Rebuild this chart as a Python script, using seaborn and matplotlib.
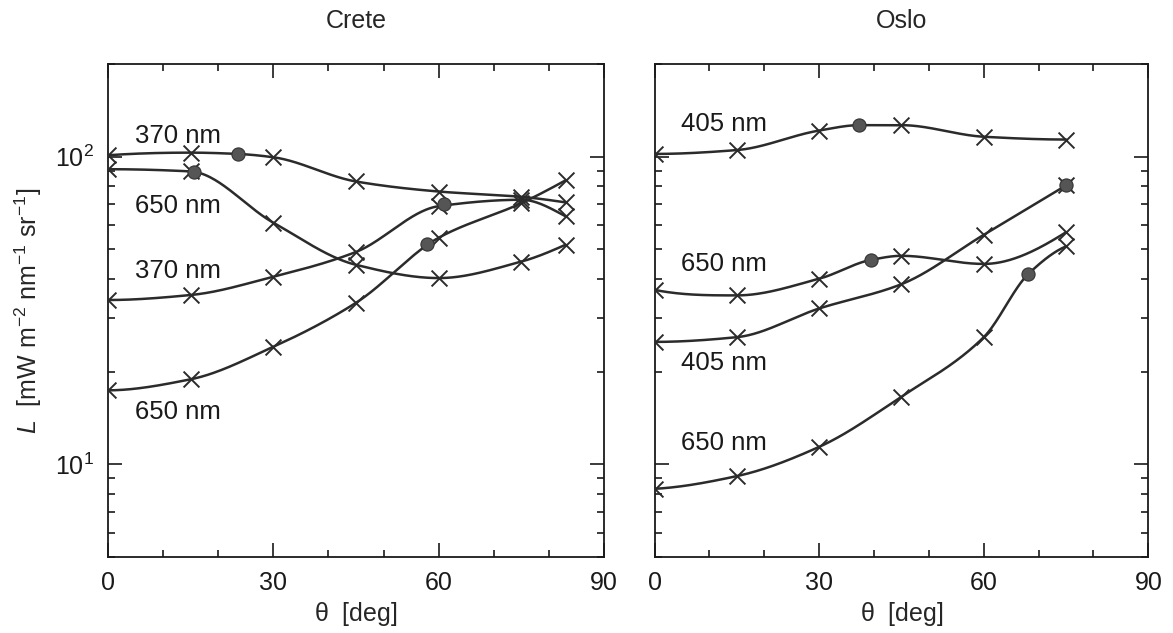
import numpy as np
import pandas as pd
import matplotlib
matplotlib.use('Agg')
import matplotlib.pyplot as plt
import matplotlib.ticker as mticker
import seaborn as sns

# Data (radiance L vs. viewing angle theta)
theta_crete = [0, 15, 30, 45, 60, 75, 83]
crete_370_a = [101, 103, 99.5, 83, 77, 74, 71]
crete_650_a = [91, 89.5, 61, 44.5, 40.3, 45.6, 51.7]
crete_370_b = [34.2, 35.5, 40.7, 49, 69, 72.4, 64]
crete_650_b = [17.4, 18.9, 24.1, 33.5, 54.5, 70.6, 83.7]

theta_oslo = [0, 15, 30, 45, 60, 75]
oslo_405_a = [102, 105, 121.5, 126.5, 116, 113.6]
oslo_650_a = [36.9, 35.4, 40.1, 47.6, 44.8, 56.8]
oslo_405_b = [25.0, 25.9, 32.1, 38.5, 55.7, 80.6]
oslo_650_b = [8.33, 9.16, 11.4, 16.6, 25.9, 51.1]

# filled circles on each curve (same order as the series)
crete_dot_theta = [23.6, 15.6, 61, 57.9]
crete_dot_L = [102, 89, 70.3, 52]
oslo_dot_theta = [37.3, 39.5, 75, 68.1]
oslo_dot_L = [126.5, 46.2, 80.6, 41.5]

# curve labels
crete_labels = ['370 nm', '650 nm', '370 nm', '650 nm']
crete_label_L = [117, 69.3, 42.6, 14.8]
oslo_labels = ['405 nm', '650 nm', '405 nm', '650 nm']
oslo_label_L = [128, 44.8, 21.3, 11.7]


def smooth(x, y, n=300):
    # monotone cubic (PCHIP) through the points, in log space
    x = np.asarray(x, float)
    ly = np.log10(np.asarray(y, float))
    h = np.diff(x)
    d = np.diff(ly) / h
    m = np.zeros_like(ly)
    for i in range(1, len(x) - 1):
        if d[i - 1] * d[i] > 0:
            w1 = 2 * h[i] + h[i - 1]
            w2 = h[i] + 2 * h[i - 1]
            m[i] = (w1 + w2) / (w1 / d[i - 1] + w2 / d[i])
    m[0] = d[0] if len(d) == 1 else ((2 * h[0] + h[1]) * d[0] - h[0] * d[1]) / (h[0] + h[1])
    if m[0] * d[0] <= 0:
        m[0] = 0
    m[-1] = ((2 * h[-1] + h[-2]) * d[-1] - h[-1] * d[-2]) / (h[-1] + h[-2])
    if m[-1] * d[-1] <= 0:
        m[-1] = 0
    xs = np.linspace(x[0], x[-1], n)
    idx = np.clip(np.searchsorted(x, xs) - 1, 0, len(x) - 2)
    hh = h[idx]
    t = (xs - x[idx]) / hh
    h00 = 2 * t ** 3 - 3 * t ** 2 + 1
    h10 = t ** 3 - 2 * t ** 2 + t
    h01 = -2 * t ** 3 + 3 * t ** 2
    h11 = t ** 3 - t ** 2
    s = h00 * ly[idx] + h10 * hh * m[idx] + h01 * ly[idx + 1] + h11 * hh * m[idx + 1]
    return xs, 10 ** s


sns.set_style('ticks')
plt.rcParams['font.family'] = ['Liberation Sans', 'DejaVu Sans']
plt.rcParams['mathtext.fontset'] = 'custom'
plt.rcParams['mathtext.rm'] = 'Liberation Sans'
plt.rcParams['mathtext.it'] = 'Liberation Sans:italic'
plt.rcParams['mathtext.default'] = 'regular'

line_col = '#2b2b2b'

fig = plt.figure(figsize=(11.73, 6.33), dpi=100)
ax1 = fig.add_axes([0.092, 0.120, 0.423, 0.779])
ax2 = fig.add_axes([0.558, 0.120, 0.421, 0.779])

panels = [
    (ax1, 'Crete', theta_crete, [crete_370_a, crete_650_a, crete_370_b, crete_650_b],
     crete_dot_theta, crete_dot_L, crete_labels, crete_label_L),
    (ax2, 'Oslo', theta_oslo, [oslo_405_a, oslo_650_a, oslo_405_b, oslo_650_b],
     oslo_dot_theta, oslo_dot_L, oslo_labels, oslo_label_L),
]

for ax, site, theta, series, dth, dL, labs, labL in panels:
    ax.set_yscale('log')
    rows = []
    for k, vals in enumerate(series):
        # the circle sits on the curve; use it as a knot when it is away from the crosses
        kx, ky = list(theta), list(vals)
        if min(abs(dth[k] - t) for t in theta) > 2.5:
            kx.append(dth[k])
            ky.append(dL[k])
        order = np.argsort(kx)
        xs, ys = smooth(np.array(kx)[order], np.array(ky)[order])
        sns.lineplot(x=xs, y=ys, ax=ax, color=line_col, lw=1.8, sort=False, estimator=None)
        for t, v in zip(theta, vals):
            rows.append({'theta': t, 'L': v, 'curve': k})
    df = pd.DataFrame(rows)
    sns.scatterplot(data=df, x='theta', y='L', ax=ax, marker='x', color=line_col,
                    s=130, linewidth=1.4, zorder=3)
    sns.scatterplot(x=dth, y=dL, ax=ax, color='#555555', edgecolor='#333333',
                    s=90, linewidth=0.8, zorder=4)
    for lab, yv in zip(labs, labL):
        ax.text(4.9, yv, lab, fontsize=18.5, va='center', ha='left', color='#1a1a1a')

    ax.set_xlim(0, 90)
    ax.set_ylim(5, 200)
    ax.set_xticks([0, 30, 60, 90])
    ax.xaxis.set_minor_locator(mticker.MultipleLocator(10))
    ax.yaxis.set_major_locator(mticker.LogLocator(base=10))
    ax.yaxis.set_minor_locator(mticker.LogLocator(base=10, subs=np.arange(2, 10)))
    ax.yaxis.set_minor_formatter(mticker.NullFormatter())
    ax.tick_params(which='both', direction='in', top=True, right=True,
                   labelsize=18, colors='#1a1a1a', pad=10)
    ax.tick_params(which='major', length=10, width=1.2)
    ax.tick_params(which='minor', length=5, width=1.2)
    for sp in ax.spines.values():
        sp.set_linewidth(1.3)
        sp.set_color('#1a1a1a')
    ax.set_xlabel(r'$\theta$  [deg]', fontsize=18, labelpad=4)
    ax.set_ylabel('')
    ax.set_title(site, fontsize=18, pad=26)

ax1.set_ylabel(r'$\it{L}$  [mW m$^{-2}$ nm$^{-1}$ sr$^{-1}$]', fontsize=18, labelpad=8)
ax2.tick_params(axis='y', which='both', labelleft=False)

fig.savefig('out.png', dpi=100)
